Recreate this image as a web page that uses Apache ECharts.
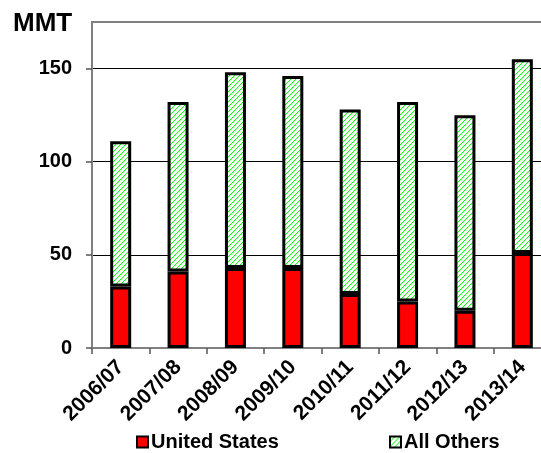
<!DOCTYPE html>
<html>
<head>
<meta charset="utf-8">
<script src="https://cdn.jsdelivr.net/npm/echarts@6/dist/echarts.min.js"></script>
<style>
html,body{margin:0;padding:0;background:#fff;}
#chart{width:541px;height:453px;}
</style>
</head>
<body>
<div id="chart"></div>
<script>
var categories = ['2006/07','2007/08','2008/09','2009/10','2010/11','2011/12','2012/13','2013/14'];
var unitedStates = [33, 41, 43, 43, 29, 25, 20, 51];
var allOthers = [78, 91, 105, 103, 99, 107, 105, 104];
var yTicks = [0, 50, 100, 150];

function makePattern() {
  var c = document.createElement('canvas');
  c.width = 5; c.height = 5;
  var ctx = c.getContext('2d');
  ctx.fillStyle = '#ffffff';
  ctx.fillRect(0, 0, 5, 5);
  for (var i = 0; i < 5; i++) {
    ctx.fillStyle = (i % 2 === 0) ? '#00ff00' : '#33ee33';
    ctx.fillRect(4 - i, i, 1, 1);
    ctx.fillStyle = '#c8ffc8';
    ctx.fillRect((5 - i) % 5, i, 1, 1);
  }
  return c;
}
var pattern = { image: makePattern(), repeat: 'repeat' };
var FONT = '"Liberation Sans", Arial, sans-serif';

var chart = echarts.init(document.getElementById('chart'), null, {renderer: 'canvas'});
chart.setOption({
  animation: false,
  backgroundColor: '#fff',
  title: {
    text: 'MMT', left: 8, top: 6,
    textStyle: {fontFamily: FONT, fontSize: 26, fontWeight: 'bold', color: '#000'}
  },
  grid: {
    left: 92, top: 22, width: 459, height: 326,
    outerBoundsMode: 'none', containLabel: false,
    show: true, borderColor: '#808080', borderWidth: 2, backgroundColor: 'transparent'
  },
  legend: [
    {
      data: ['United States'], left: 131, top: 427, icon: 'rect', itemWidth: 11, itemHeight: 11,
      itemGap: 0, textStyle: {fontFamily: FONT, fontSize: 20, fontWeight: 'bold', color: '#000', padding: [0,0,0,-2]},
      itemStyle: {borderColor: '#000', borderWidth: 2}
    },
    {
      data: ['All Others'], left: 384, top: 427, icon: 'rect', itemWidth: 11, itemHeight: 11,
      itemGap: 0, textStyle: {fontFamily: FONT, fontSize: 20, fontWeight: 'bold', color: '#000', padding: [0,0,0,-2]},
      itemStyle: {borderColor: '#000', borderWidth: 2}
    }
  ],
  xAxis: {
    type: 'category', data: categories,
    axisLine: {lineStyle: {color: '#808080', width: 2}},
    axisTick: {show: true, length: 6, lineStyle: {color: '#555', width: 1.5}},
    axisLabel: {rotate: 45, margin: 16, fontFamily: FONT, fontSize: 21, fontWeight: 'bold', color: '#000', interval: 0}
  },
  yAxis: {
    type: 'value', min: 0, max: 175, interval: 50,
    axisLine: {show: true, lineStyle: {color: '#808080', width: 2}},
    axisTick: {show: true, length: 6, customValues: yTicks, lineStyle: {color: '#555', width: 1.5}},
    axisLabel: {margin: 20, customValues: yTicks, fontFamily: FONT, fontSize: 20, fontWeight: 'bold', color: '#000'},
    splitLine: {show: true, lineStyle: {color: ['#000','#000','#000','#000','#808080'], width: 1}}
  },
  series: [
    {
      name: 'United States', type: 'bar', stack: 'total', data: unitedStates, barWidth: 21,
      itemStyle: {color: '#ff0000', borderColor: '#000', borderWidth: 3}
    },
    {
      name: 'All Others', type: 'bar', stack: 'total', data: allOthers, barWidth: 21,
      itemStyle: {color: pattern, borderColor: '#000', borderWidth: 3}
    }
  ]
});
</script>
</body>
</html>
